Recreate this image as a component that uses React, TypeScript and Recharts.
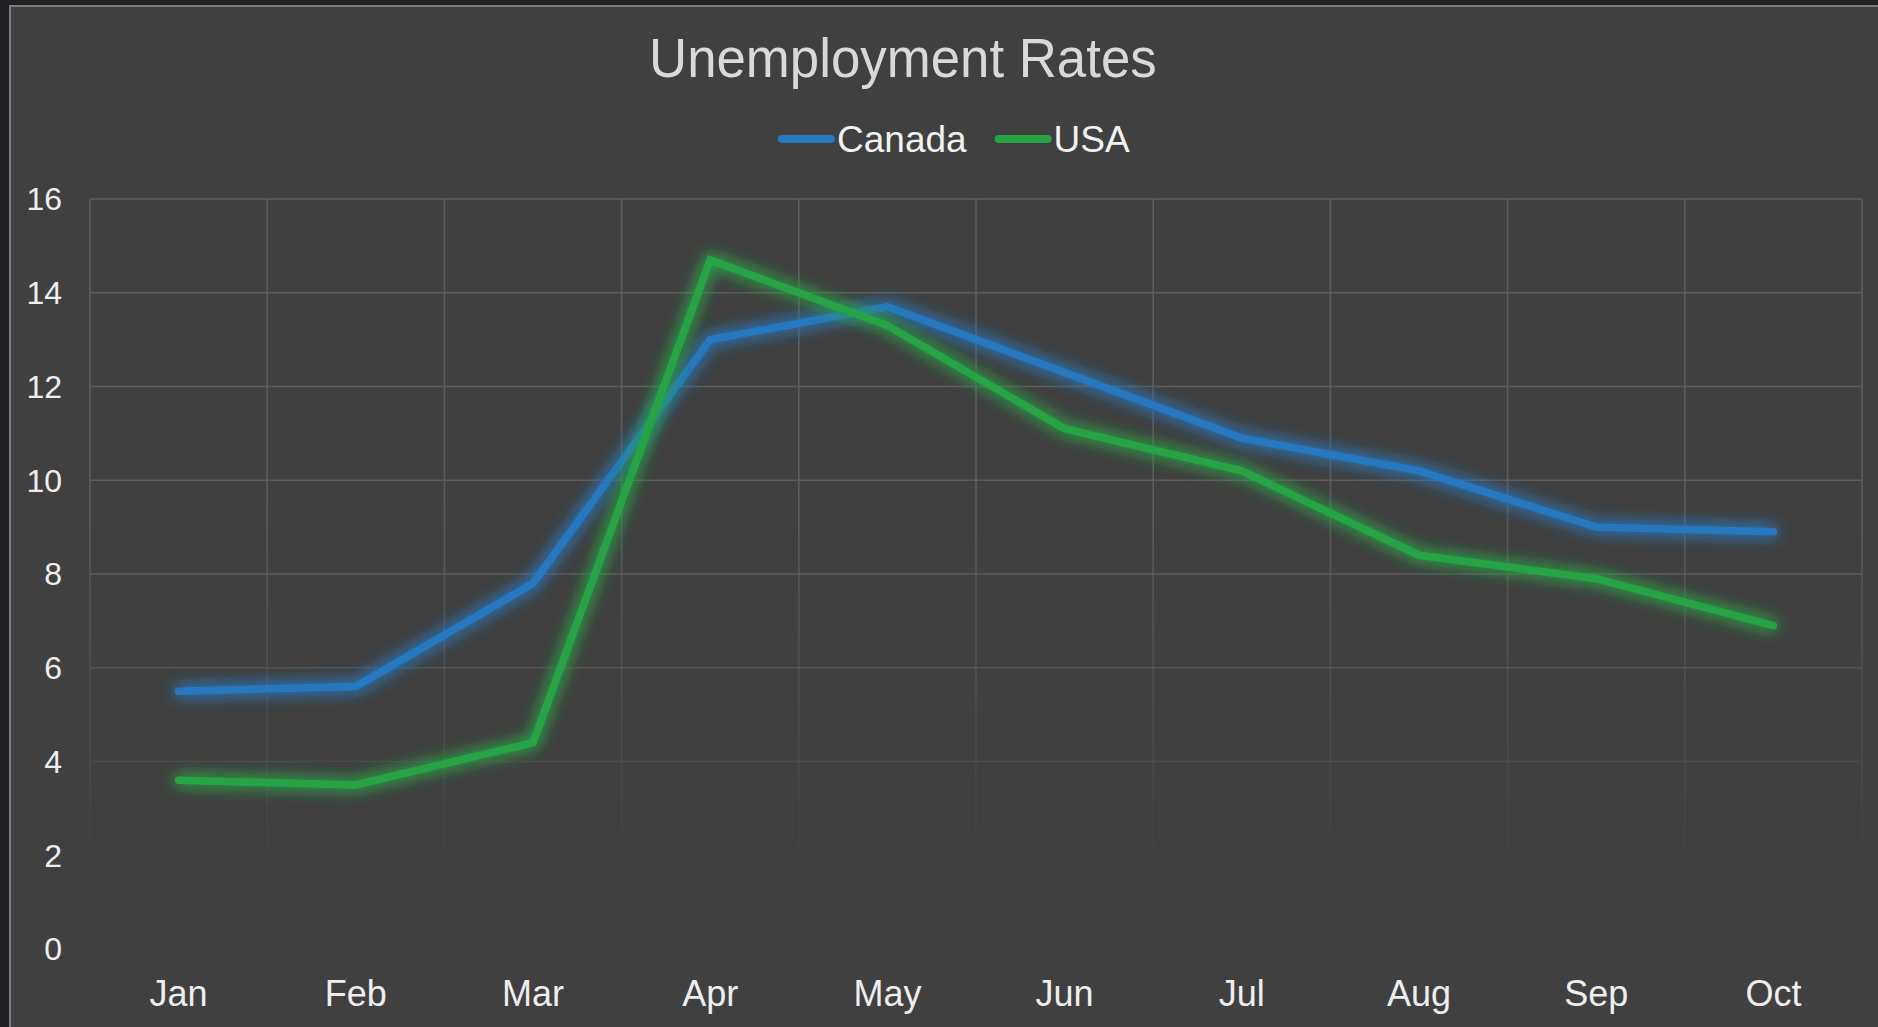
import React from "react";
import { LineChart, Line, XAxis, YAxis, CartesianGrid, Legend } from "recharts";

const months = ["Jan", "Feb", "Mar", "Apr", "May", "Jun", "Jul", "Aug", "Sep", "Oct"];
const canada = [5.5, 5.6, 7.8, 13.0, 13.7, 12.3, 10.9, 10.2, 9.0, 8.9];
const usa = [3.6, 3.5, 4.4, 14.7, 13.3, 11.1, 10.2, 8.4, 7.9, 6.9];
const yTicks = [0, 2, 4, 6, 8, 10, 12, 14, 16];

const data = months.map((m, i) => ({ month: m, Canada: canada[i], USA: usa[i] }));

const FONT = "'Liberation Sans', Arial, sans-serif";
const GRID = "#5d5d5d";

// width of a label in px
const measure = (txt: string, size: number) => {
  try {
    const ctx = document.createElement("canvas").getContext("2d");
    if (ctx) {
      ctx.font = `${size}px ${FONT}`;
      return ctx.measureText(txt).width;
    }
  } catch (e) {}
  return txt.length * size * 0.55;
};

// horizontal grid lines fade out toward the bottom
const hLine = (p: any) => {
  const top = p.y ?? 199;
  const h = p.height ?? 750;
  const v = ((top + h - p.y1) / h) * 16;
  const op = Math.max(0, Math.min(1, (v - 1.5) / 6.5));
  return (
    <line
      key={`h-${p.index}`}
      x1={p.x1}
      x2={p.x2}
      y1={p.y1}
      y2={p.y2}
      stroke={GRID}
      strokeWidth={1.5}
      strokeOpacity={op}
    />
  );
};

// vertical grid lines stop at the "2" level and fade
const vLine = (p: any) => {
  const h = ((p.y2 - p.y1) * 14) / 16;
  return <rect key={`v-${p.index}`} x={p.x1 - 0.75} y={p.y1} width={1.5} height={h} fill="url(#vFade)" />;
};

const renderLegend = (props: any) => {
  const items = props.payload || [];
  let x = 8;
  return (
    <svg width={380} height={64}>
      {items.map((it: any) => {
        const tw = measure(String(it.value), 37);
        const g = (
          <g key={it.value}>
            <line x1={x + 4} x2={x + 53} y1={31} y2={31} stroke={it.color} strokeWidth={8} strokeLinecap="round" />
            <text x={x + 59} y={44} fontSize={37} fontFamily={FONT} fill="#f2f2f2">
              {it.value}
            </text>
          </g>
        );
        x += 59 + tw + 28;
        return g;
      })}
    </svg>
  );
};

export default function App() {
  return (
    <div style={{ position: "absolute", left: 0, top: 0, width: 1878, height: 1027, background: "#202124", overflow: "hidden" }}>
      <div
        style={{
          position: "absolute",
          left: 9,
          top: 5,
          width: 1900,
          height: 1100,
          background: "#404040",
          border: "2px solid #7e7e7e",
          boxSizing: "border-box",
        }}
      />
      <svg style={{ position: "absolute", left: 0, top: 0 }} width={1878} height={100}>
        <text transform="translate(649,77) scale(0.96,1)" fontSize={55} fontFamily={FONT} fill="#d9d9d9">
          Unemployment Rates
        </text>
      </svg>
      <div style={{ position: "absolute", left: 0, top: 0 }}>
        <LineChart width={1878} height={1027} data={data} margin={{ top: 199, right: 16, bottom: 18, left: 0 }}>
          <defs>
            <linearGradient id="vFade" x1="0" y1="0" x2="0" y2="1">
              <stop offset="0" stopColor={GRID} stopOpacity={1} />
              <stop offset="0.45" stopColor={GRID} stopOpacity={1} />
              <stop offset="1" stopColor={GRID} stopOpacity={0.08} />
            </linearGradient>
            <filter id="glow" x="-5%" y="-20%" width="110%" height="140%">
              <feGaussianBlur in="SourceGraphic" stdDeviation="8" result="blur" />
              <feColorMatrix
                in="blur"
                type="matrix"
                values="1 0 0 0 0  0 1 0 0 0  0 0 1 0 0  0 0 0 1.7 0"
                result="glowA"
              />
              <feMerge>
                <feMergeNode in="glowA" />
                <feMergeNode in="SourceGraphic" />
              </feMerge>
            </filter>
          </defs>
          <CartesianGrid
            horizontal={hLine}
            vertical={vLine}
            verticalCoordinatesGenerator={({ offset }: any) =>
              months.map((_, i) => offset.left + (i * offset.width) / months.length).concat(offset.left + offset.width)
            }
          />
          <XAxis
            dataKey="month"
            scale="band"
            interval={0}
            axisLine={false}
            tickLine={false}
            tickSize={0}
            tickMargin={31}
            height={60}
            tick={{ fill: "#eeeeee", fontSize: 36, fontFamily: FONT }}
          />
          <YAxis
            domain={[0, 16]}
            ticks={yTicks}
            width={90}
            axisLine={false}
            tickLine={false}
            tickSize={0}
            tickMargin={28}
            tick={{ fill: "#eeeeee", fontSize: 32, fontFamily: FONT }}
          />
          <Legend
            verticalAlign="middle"
            align="center"
            layout="horizontal"
            wrapperStyle={{ top: 108, left: 770, width: 380, height: 64 }}
            content={renderLegend}
          />
          <Line
            type="linear"
            dataKey="Canada"
            stroke="#2878c0"
            strokeWidth={7.5}
            strokeLinecap="round"
            dot={false}
            activeDot={false}
            filter="url(#glow)"
            isAnimationActive={false}
          />
          <Line
            type="linear"
            dataKey="USA"
            stroke="#28a445"
            strokeWidth={7.5}
            strokeLinecap="round"
            dot={false}
            activeDot={false}
            filter="url(#glow)"
            isAnimationActive={false}
          />
        </LineChart>
      </div>
    </div>
  );
}
